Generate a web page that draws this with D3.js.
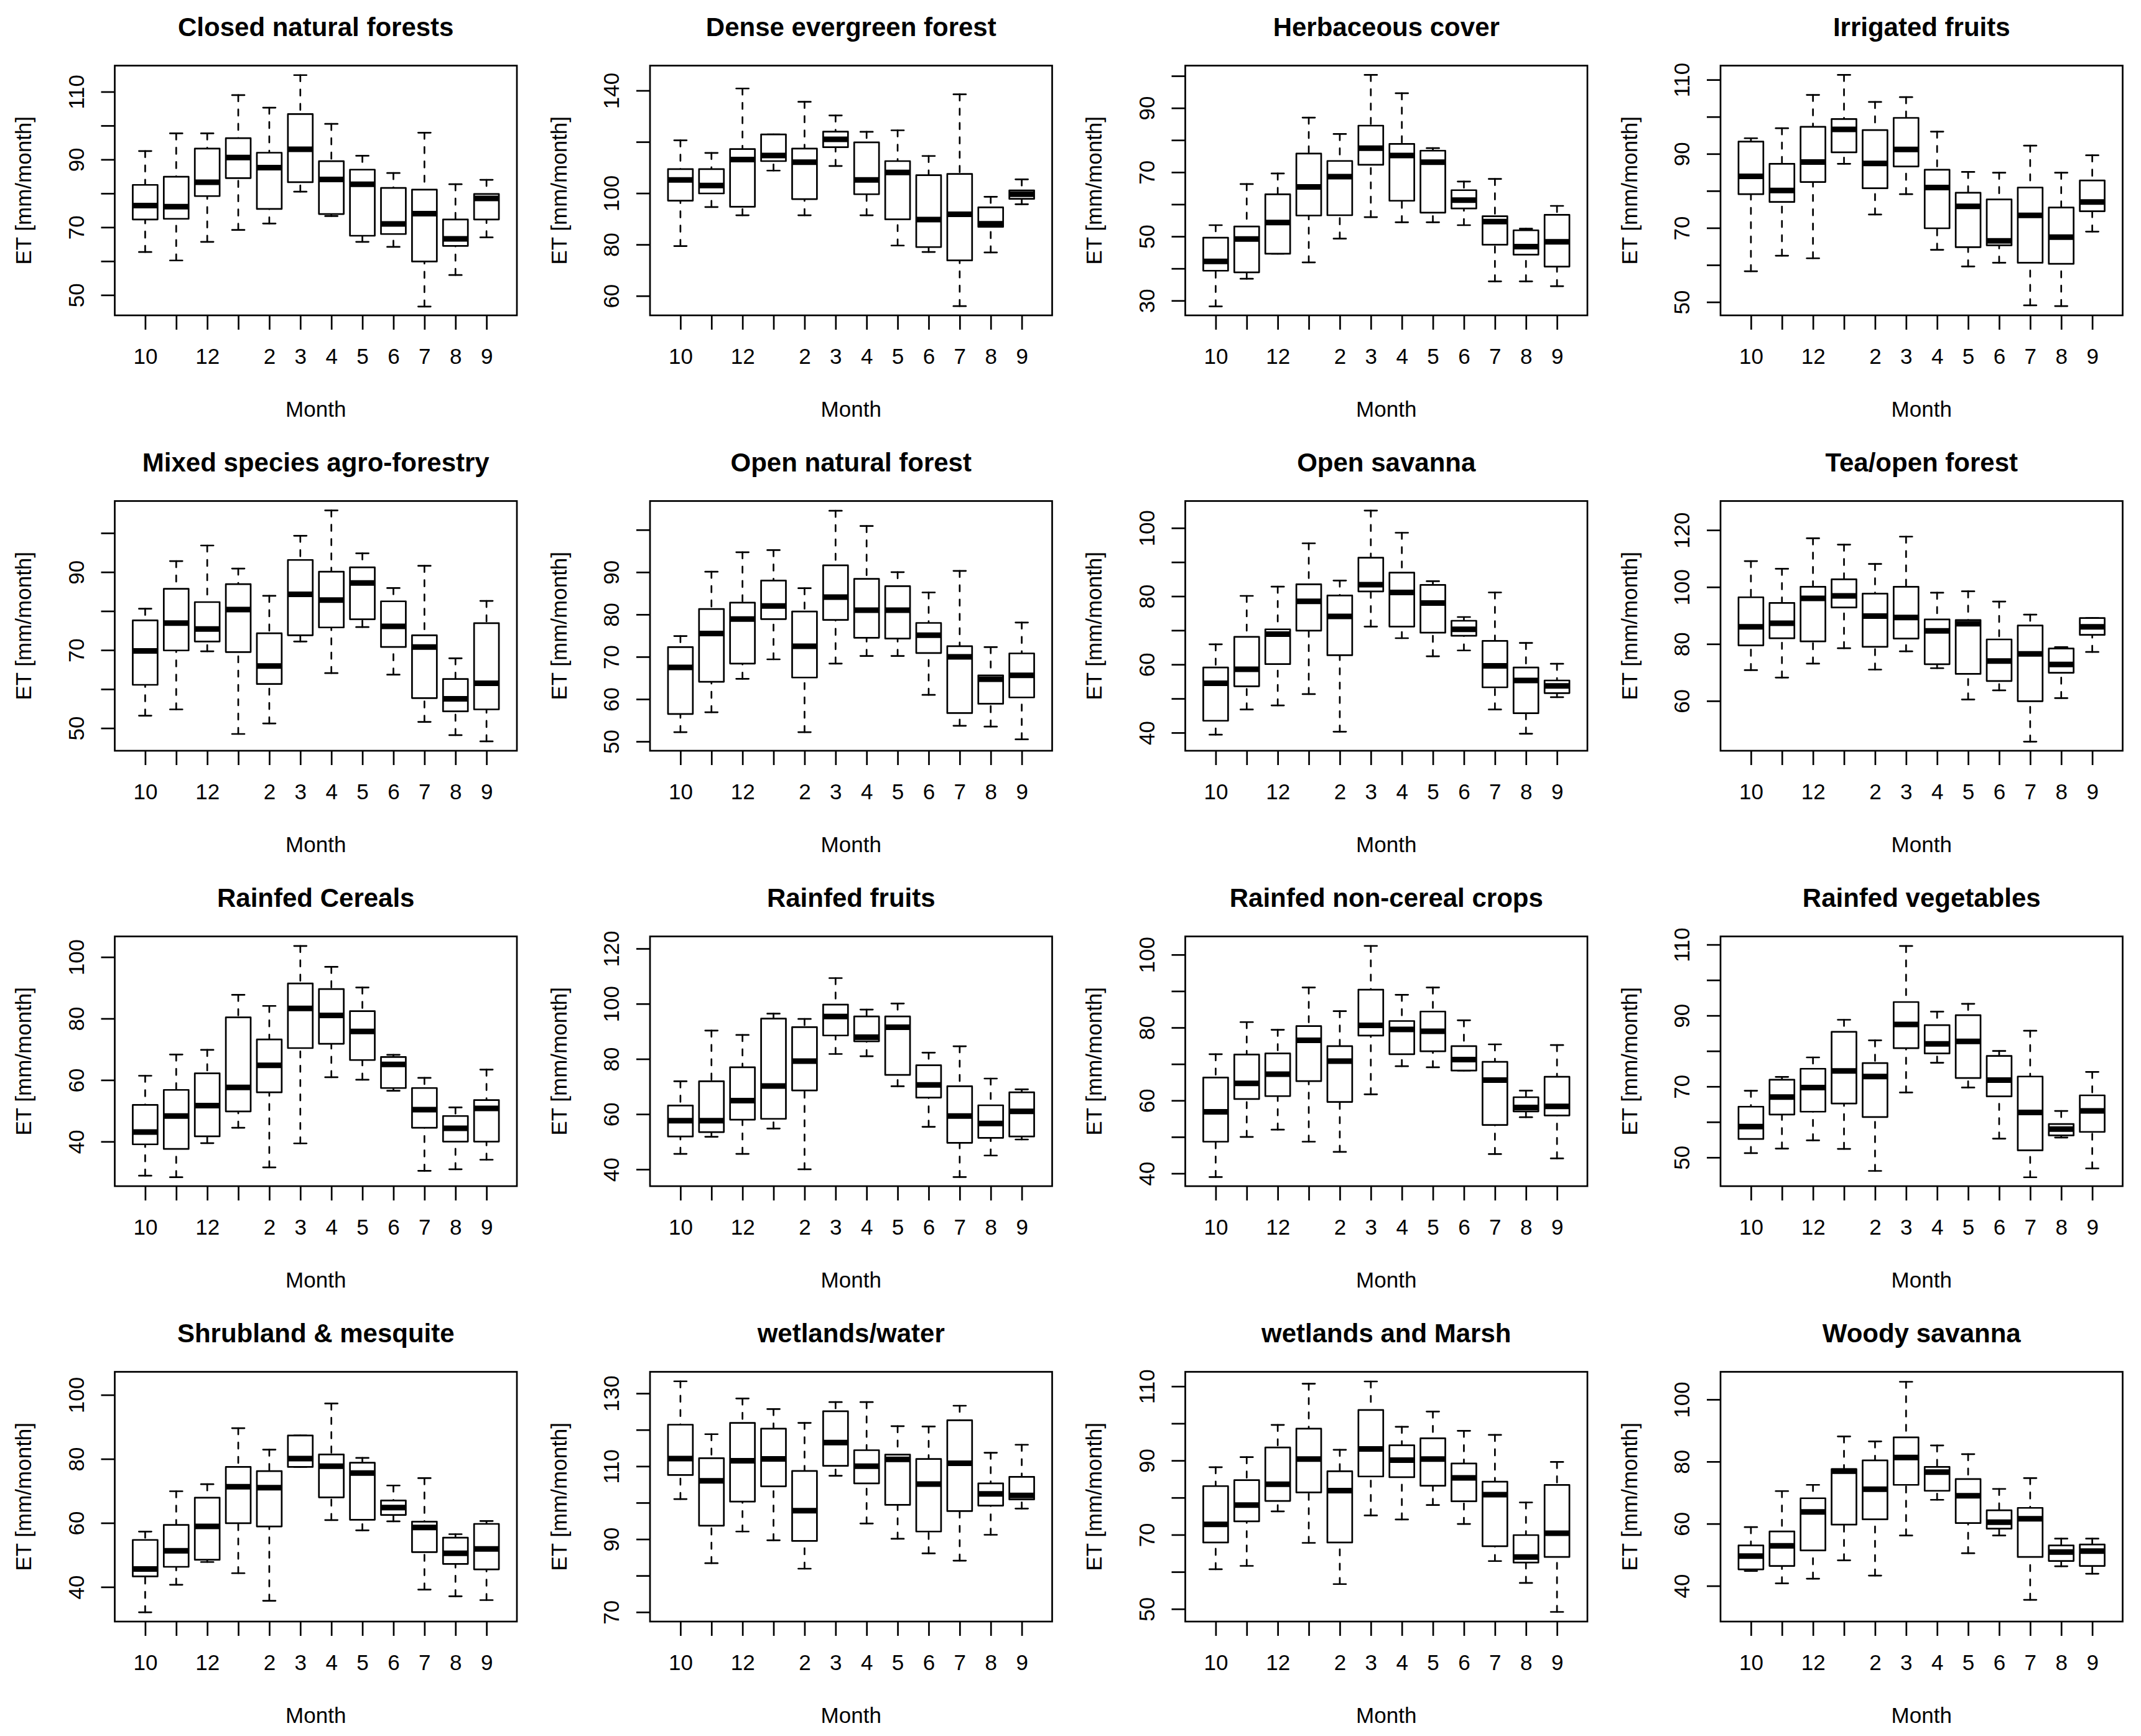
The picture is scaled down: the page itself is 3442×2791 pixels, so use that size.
<!DOCTYPE html>
<html>
<head>
<meta charset="utf-8">
<script src="https://cdn.jsdelivr.net/npm/d3@7"></script>
<style>
body { margin: 0; background: #fff; }
svg { display: block; }
</style>
</head>
<body>
<div id="chart"></div>
<script>
// Months in hydrological-year order, and the labels R managed to print
const months = [10, 11, 12, 1, 2, 3, 4, 5, 6, 7, 8, 9];
const monthLabels = ["10", "", "12", "", "2", "3", "4", "5", "6", "7", "8", "9"];

const titles = [
    "Closed natural forests", "Dense evergreen forest", "Herbaceous cover", "Irrigated fruits",
    "Mixed species agro-forestry", "Open natural forest", "Open savanna", "Tea/open forest",
    "Rainfed Cereals", "Rainfed fruits", "Rainfed non-cereal crops", "Rainfed vegetables",
    "Shrubland & mesquite", "wetlands/water", "wetlands and Marsh", "Woody savanna"
];

// Per month: [lower whisker, Q1, median, Q3, upper whisker] in mm/month
const closedNaturalForests = [
    [62.7, 72.3, 76.4, 82.5, 92.5], [60.2, 72.5, 76.1, 84.9, 97.7], [65.7, 79.2, 83.3, 93.2, 97.7],
    [69.2, 84.5, 90.6, 96.3, 109.0], [71.1, 75.4, 87.6, 92.0, 105.3], [80.5, 83.3, 93.0, 103.4, 114.9],
    [73.3, 73.9, 84.1, 89.5, 100.5], [65.7, 67.5, 82.7, 87.0, 91.1], [64.2, 68.0, 71.0, 81.6, 86.0],
    [46.6, 59.9, 74.0, 81.1, 97.9], [55.9, 64.5, 66.6, 72.3, 82.7], [67.0, 72.3, 78.5, 79.8, 84.0]
];
const denseEvergreenForest = [
    [79.4, 97.1, 105.2, 109.4, 120.6], [94.6, 99.9, 103.0, 109.4, 115.7], [91.4, 94.7, 113.1, 117.2, 140.8],
    [108.8, 112.5, 114.7, 122.9, 122.9], [91.4, 97.7, 112.1, 117.4, 135.6], [110.6, 117.9, 121.0, 124.0, 130.3],
    [91.4, 99.6, 105.2, 119.8, 123.9], [79.6, 89.8, 108.1, 112.5, 124.5], [77.1, 79.0, 89.7, 107.0, 114.5],
    [56.0, 73.8, 91.8, 107.5, 138.5], [76.9, 86.9, 88.1, 94.5, 98.6], [95.7, 97.8, 99.6, 101.1, 105.4]
];
const herbaceousCover = [
    [28.2, 39.3, 42.2, 49.6, 53.5], [36.8, 38.8, 49.2, 53.1, 66.3], [44.6, 44.6, 54.3, 63.1, 69.6],
    [41.9, 56.5, 65.4, 75.8, 87.0], [49.3, 56.6, 68.6, 73.5, 81.9], [56.0, 72.3, 77.5, 84.5, 100.3],
    [54.4, 61.1, 75.2, 78.8, 94.6], [54.4, 57.4, 73.1, 76.7, 77.5], [53.5, 58.7, 61.3, 64.4, 67.1],
    [36.0, 47.4, 54.6, 56.3, 67.9], [36.0, 44.3, 46.8, 51.9, 52.4], [34.5, 40.6, 48.3, 56.7, 59.5]
];
const irrigatedFruits = [
    [58.3, 79.1, 83.9, 93.3, 94.2], [62.5, 77.0, 80.1, 87.3, 96.9], [61.8, 82.4, 87.8, 97.3, 105.9],
    [87.3, 90.4, 96.6, 99.4, 111.3], [73.6, 80.7, 87.4, 96.4, 104.0], [79.1, 86.6, 91.2, 99.7, 105.3],
    [64.1, 69.9, 80.9, 85.7, 96.0], [59.6, 64.8, 75.8, 79.5, 85.1], [60.6, 65.3, 66.5, 77.7, 84.9],
    [49.1, 60.6, 73.4, 80.9, 92.2], [48.9, 60.3, 67.5, 75.5, 84.9], [69.0, 74.5, 77.0, 82.8, 89.6]
];
const mixedAgroForestry = [
    [53.2, 61.1, 69.8, 77.6, 80.6], [54.8, 69.9, 76.9, 85.7, 92.8], [69.7, 72.2, 75.4, 82.3, 96.8],
    [48.5, 69.5, 80.4, 86.9, 90.9], [51.2, 61.3, 65.9, 74.3, 83.9], [72.2, 73.8, 84.3, 93.1, 99.3],
    [64.1, 75.8, 82.8, 90.1, 105.8], [75.9, 77.9, 87.2, 91.2, 94.8], [63.7, 70.8, 76.1, 82.5, 85.9],
    [51.6, 57.7, 70.8, 73.8, 91.6], [48.2, 54.3, 57.5, 62.6, 67.9], [46.6, 54.8, 61.5, 76.9, 82.6]
];
const openNaturalForest = [
    [52.2, 56.5, 67.5, 72.3, 74.9], [56.9, 64.1, 75.5, 81.3, 90.1], [64.8, 68.4, 78.9, 82.8, 94.7],
    [69.4, 78.9, 82.0, 88.0, 95.2], [52.2, 65.1, 72.5, 80.7, 86.2], [68.4, 78.7, 84.1, 91.6, 104.5],
    [70.2, 74.5, 81.0, 88.4, 100.9], [70.2, 74.3, 81.0, 86.7, 90.0], [61.0, 70.9, 75.1, 78.0, 85.2],
    [53.7, 56.7, 70.0, 72.5, 90.3], [53.5, 58.9, 64.7, 65.6, 72.3], [50.5, 60.4, 65.6, 70.8, 78.1]
];
const openSavanna = [
    [39.4, 43.5, 54.5, 59.1, 65.9], [46.8, 53.6, 58.6, 68.1, 80.1], [48.0, 60.1, 68.9, 70.3, 82.8],
    [51.3, 69.9, 78.5, 83.5, 95.5], [40.3, 62.7, 74.1, 80.2, 84.6], [71.1, 81.4, 83.4, 91.3, 105.1],
    [67.7, 71.1, 81.1, 86.9, 98.6], [62.4, 69.3, 78.0, 83.3, 84.4], [64.1, 68.4, 70.3, 72.8, 73.9],
    [46.8, 53.3, 59.6, 66.9, 81.1], [39.7, 45.7, 55.3, 59.1, 66.3], [50.4, 51.6, 53.7, 55.3, 60.2]
];
const teaOpenForest = [
    [70.8, 79.5, 86.0, 96.4, 109.1], [68.2, 82.0, 87.3, 94.4, 106.4], [73.1, 80.9, 96.0, 100.1, 117.1],
    [78.5, 92.8, 96.9, 102.7, 114.9], [71.0, 79.0, 89.8, 97.7, 108.1], [77.4, 81.9, 89.3, 100.1, 117.7],
    [71.5, 72.9, 84.6, 88.6, 98.0], [60.5, 69.5, 87.1, 88.4, 98.5], [63.7, 67.0, 74.0, 81.6, 94.9],
    [45.7, 59.9, 76.5, 86.5, 90.3], [61.0, 69.9, 72.8, 78.4, 78.9], [77.2, 83.2, 86.0, 89.1, 89.1]
];
const rainfedCereals = [
    [28.9, 39.1, 43.1, 51.9, 61.4], [28.4, 37.6, 48.3, 56.8, 68.3], [39.5, 41.7, 51.7, 62.2, 69.8],
    [44.5, 49.8, 57.6, 80.4, 87.7], [31.6, 56.0, 64.8, 73.2, 84.1], [39.4, 70.4, 83.3, 91.4, 103.6],
    [60.9, 71.8, 81.0, 89.6, 96.8], [60.1, 66.5, 75.8, 82.4, 90.1], [56.5, 57.4, 65.1, 67.5, 68.2],
    [30.5, 44.5, 50.4, 57.4, 60.7], [31.0, 40.0, 44.3, 48.3, 51.1], [34.1, 40.0, 50.8, 53.5, 63.4]
];
const rainfedFruits = [
    [45.6, 51.9, 57.6, 63.1, 71.9], [51.8, 53.5, 57.6, 71.9, 90.3], [45.6, 58.0, 64.9, 77.0, 88.7],
    [54.8, 58.3, 70.2, 94.6, 96.4], [40.0, 68.6, 79.2, 91.5, 94.5], [81.8, 88.5, 95.4, 99.7, 109.3],
    [81.0, 86.4, 87.9, 95.4, 97.9], [70.1, 74.2, 91.5, 95.4, 100.1], [55.4, 66.0, 70.6, 77.7, 82.3],
    [37.2, 49.6, 59.3, 70.1, 84.6], [45.0, 51.4, 56.6, 63.2, 72.9], [50.8, 51.9, 61.0, 67.9, 69.0]
];
const rainfedNonCereal = [
    [39.0, 48.7, 56.9, 66.3, 72.7], [50.0, 60.4, 64.7, 72.6, 81.5], [52.0, 61.2, 67.2, 72.9, 79.4],
    [48.7, 65.3, 76.5, 80.4, 91.0], [45.9, 59.6, 70.8, 74.9, 84.5], [61.7, 77.8, 80.6, 90.4, 102.4],
    [69.4, 72.7, 79.5, 81.8, 89.0], [69.1, 73.5, 79.0, 84.4, 91.0], [68.2, 68.2, 71.2, 74.9, 82.0],
    [45.3, 53.3, 65.6, 70.6, 75.4], [55.4, 57.0, 58.1, 60.9, 62.7], [44.1, 55.9, 58.4, 66.5, 75.2]
];
const rainfedVegetables = [
    [51.2, 55.2, 58.7, 64.3, 68.8], [52.5, 62.1, 67.0, 71.9, 72.7], [54.8, 62.9, 69.7, 75.0, 78.2],
    [52.4, 65.2, 74.4, 85.4, 88.8], [46.2, 61.4, 72.8, 76.6, 83.0], [68.3, 80.8, 87.5, 93.8, 109.6],
    [76.7, 79.3, 82.0, 87.3, 91.1], [69.7, 72.4, 82.7, 90.1, 93.3], [55.3, 67.2, 71.8, 78.6, 80.0],
    [44.4, 52.0, 62.7, 72.8, 85.7], [55.6, 56.2, 58.0, 59.4, 63.1], [46.9, 57.2, 63.1, 67.5, 74.1]
];
const shrublandMesquite = [
    [32.1, 43.3, 45.6, 54.7, 57.3], [40.7, 46.3, 51.3, 59.4, 69.9], [47.8, 48.5, 58.9, 67.9, 72.1],
    [44.3, 59.9, 71.3, 77.5, 89.6], [35.7, 58.9, 71.0, 76.2, 82.9], [77.5, 77.5, 80.1, 87.3, 87.3],
    [60.9, 68.0, 77.7, 81.4, 97.3], [57.7, 61.0, 75.6, 78.8, 80.3], [60.5, 62.5, 64.8, 67.0, 71.7],
    [39.2, 50.9, 58.6, 60.4, 74.0], [37.1, 47.2, 50.5, 55.4, 56.5], [35.9, 45.5, 51.9, 59.7, 60.6]
];
const wetlandsWater = [
    [101.0, 107.6, 112.1, 121.4, 133.3], [83.4, 93.7, 106.0, 112.2, 118.8], [92.1, 100.3, 111.5, 121.9, 128.6],
    [89.7, 104.5, 112.0, 120.3, 125.7], [81.9, 89.5, 97.8, 108.7, 121.9], [107.4, 110.1, 116.5, 125.1, 127.6],
    [94.3, 105.3, 110.0, 114.4, 127.6], [90.1, 99.4, 111.9, 113.2, 121.0], [86.1, 92.1, 105.1, 112.0, 120.9],
    [84.1, 97.7, 110.8, 122.6, 126.6], [91.2, 99.2, 102.4, 105.3, 113.7], [98.4, 100.9, 102.0, 107.1, 115.9]
];
const wetlandsMarsh = [
    [60.7, 67.9, 72.8, 83.1, 88.2], [61.6, 73.6, 78.0, 84.7, 90.9], [76.3, 79.1, 83.6, 93.5, 99.6],
    [67.8, 81.4, 90.4, 98.6, 110.7], [56.7, 67.9, 81.9, 87.1, 92.9], [75.2, 85.7, 93.1, 103.6, 111.3],
    [74.1, 85.5, 90.1, 94.1, 99.1], [78.0, 83.2, 90.4, 96.0, 103.2], [72.9, 79.0, 85.3, 89.2, 98.0],
    [62.9, 66.9, 80.8, 84.3, 96.9], [57.0, 62.5, 64.0, 69.9, 78.7], [49.2, 64.0, 70.4, 83.4, 89.6]
];
const woodySavanna = [
    [44.8, 45.3, 49.6, 53.0, 58.9], [40.8, 46.4, 52.9, 57.5, 70.5], [42.3, 51.4, 63.8, 68.2, 72.5],
    [48.2, 59.7, 76.9, 77.6, 88.1], [43.3, 61.4, 71.1, 80.4, 86.5], [56.2, 72.5, 81.3, 87.8, 105.7],
    [67.7, 70.6, 76.6, 78.3, 85.2], [50.5, 60.2, 69.0, 74.4, 82.4], [56.2, 58.4, 60.5, 64.3, 71.2],
    [35.5, 49.3, 61.6, 65.1, 74.7], [46.3, 48.0, 50.9, 53.0, 55.2], [43.9, 46.4, 51.2, 53.3, 55.2]
];

// y axis of each panel: visible range, tick marks and the ticks that carry a label
const yRanges = [
    [44.0, 117.7], [52.4, 149.7], [25.4, 103.2], [46.4, 113.8],
    [44.2, 108.2], [47.8, 106.8], [34.7, 107.9], [42.5, 130.2],
    [25.5, 106.7], [33.9, 124.4], [36.5, 105.0], [41.9, 112.3],
    [29.2, 107.2], [67.4, 135.9], [46.6, 113.9], [28.5, 108.9]
];
const yTicks = [
    [50, 60, 70, 80, 90, 100, 110], [60, 80, 100, 120, 140], [30, 40, 50, 60, 70, 80, 90, 100], [50, 60, 70, 80, 90, 100, 110],
    [50, 60, 70, 80, 90, 100], [50, 60, 70, 80, 90, 100], [40, 50, 60, 70, 80, 90, 100], [60, 80, 100, 120],
    [40, 60, 80, 100], [40, 60, 80, 100, 120], [40, 50, 60, 70, 80, 90, 100], [50, 60, 70, 80, 90, 100, 110],
    [40, 60, 80, 100], [70, 80, 90, 100, 110, 120, 130], [50, 60, 70, 80, 90, 100, 110], [40, 60, 80, 100]
];
const yLabels = [
    [50, 70, 90, 110], [60, 80, 100, 140], [30, 50, 70, 90], [50, 70, 90, 110],
    [50, 70, 90], [50, 60, 70, 80, 90], [40, 60, 80, 100], [60, 80, 100, 120],
    [40, 60, 80, 100], [40, 60, 80, 100, 120], [40, 60, 80, 100], [50, 70, 90, 110],
    [40, 60, 80, 100], [70, 90, 110, 130], [50, 70, 90, 110], [40, 60, 80, 100]
];

const series = [
    closedNaturalForests, denseEvergreenForest, herbaceousCover, irrigatedFruits,
    mixedAgroForestry, openNaturalForest, openSavanna, teaOpenForest,
    rainfedCereals, rainfedFruits, rainfedNonCereal, rainfedVegetables,
    shrublandMesquite, wetlandsWater, wetlandsMarsh, woodySavanna
];

// Page setup
const width = 3442, height = 2791;
const cellW = width / 4, cellH = 700;
const margin = { top: 105.5, right: 29.5, bottom: 193, left: 184.5 };
const plotW = cellW - margin.left - margin.right;
const plotH = cellH - margin.top - margin.bottom;
const font = "'Liberation Sans', Arial, Helvetica, sans-serif";
const lw = 2.7;       // base line width
const dash = "10,13"; // whisker dashes (round caps add the rest)

const svg = d3.select("#chart").append("svg")
    .attr("width", width)
    .attr("height", height)
    .style("background", "#fff");

// x scale shared by all panels (R style: 0.5..12.5 padded by 4%)
const x = d3.scaleLinear().domain([0.02, 12.98]).range([0, plotW]);
const boxW = x(0.8) - x(0);
const stapleW = boxW / 2;

series.forEach((stats, k) => {
    const col = k % 4, row = Math.floor(k / 4);
    const g = svg.append("g")
        .attr("transform", `translate(${col * cellW + margin.left},${row * cellH + margin.top})`);

    const y = d3.scaleLinear().domain(yRanges[k]).range([plotH, 0]);

    // title
    g.append("text")
        .attr("x", plotW / 2)
        .attr("y", 58 - margin.top)
        .attr("text-anchor", "middle")
        .style("font-family", font)
        .style("font-weight", "bold")
        .style("font-size", "42px")
        .text(titles[k]);

    // x axis
    const xAxis = g.append("g")
        .attr("transform", `translate(0,${plotH})`)
        .call(d3.axisBottom(x)
            .tickValues(d3.range(1, 13))
            .tickSize(23)
            .tickFormat((d, i) => monthLabels[i]));
    xAxis.select(".domain").remove();
    xAxis.selectAll("line").attr("stroke", "#000").attr("stroke-width", lw);
    xAxis.selectAll("text")
        .attr("y", 585 - margin.top - plotH)
        .attr("dy", 0)
        .attr("fill", "#000")
        .style("font-family", font)
        .style("font-size", "35px");

    // y axis, labels parallel to the axis
    const yAxis = g.append("g")
        .call(d3.axisLeft(y)
            .tickValues(yTicks[k])
            .tickSize(22)
            .tickFormat(d => yLabels[k].includes(d) ? d : ""));
    yAxis.select(".domain").remove();
    yAxis.selectAll("line").attr("stroke", "#000").attr("stroke-width", lw);
    yAxis.selectAll("text")
        .attr("x", 0)
        .attr("dy", 0)
        .attr("transform", "translate(-50,0) rotate(-90)")
        .attr("text-anchor", "middle")
        .attr("fill", "#000")
        .style("font-family", font)
        .style("font-size", "35px");

    // axis titles
    g.append("text")
        .attr("x", plotW / 2)
        .attr("y", 670 - margin.top)
        .attr("text-anchor", "middle")
        .style("font-family", font)
        .style("font-size", "35px")
        .text("Month");

    g.append("text")
        .attr("transform", `translate(${50 - margin.left},${plotH / 2}) rotate(-90)`)
        .attr("text-anchor", "middle")
        .style("font-family", font)
        .style("font-size", "35px")
        .text("ET [mm/month]");

    // boxes
    const box = g.selectAll("g.box")
        .data(stats)
        .join("g")
        .attr("class", "box")
        .attr("transform", (d, i) => `translate(${x(i + 1)},0)`);

    // whiskers: from the ends towards the box
    box.append("line")
        .attr("y1", d => y(d[4])).attr("y2", d => y(d[3]))
        .attr("stroke", "#000").attr("stroke-width", lw)
        .attr("stroke-dasharray", dash).attr("stroke-linecap", "round");
    box.append("line")
        .attr("y1", d => y(d[0])).attr("y2", d => y(d[1]))
        .attr("stroke", "#000").attr("stroke-width", lw)
        .attr("stroke-dasharray", dash).attr("stroke-linecap", "round");

    // staples
    [0, 4].forEach(j => {
        box.append("line")
            .attr("x1", -stapleW / 2).attr("x2", stapleW / 2)
            .attr("y1", d => y(d[j])).attr("y2", d => y(d[j]))
            .attr("stroke", "#000").attr("stroke-width", lw)
            .attr("stroke-linecap", "round");
    });

    box.append("rect")
        .attr("x", -boxW / 2)
        .attr("width", boxW)
        .attr("y", d => y(d[3]))
        .attr("height", d => y(d[1]) - y(d[3]))
        .attr("fill", "#fff")
        .attr("stroke", "#000")
        .attr("stroke-width", lw)
        .attr("stroke-linejoin", "round");

    // median
    box.append("line")
        .attr("x1", -boxW / 2).attr("x2", boxW / 2)
        .attr("y1", d => y(d[2])).attr("y2", d => y(d[2]))
        .attr("stroke", "#000").attr("stroke-width", 9);

    // plot frame
    g.append("rect")
        .attr("width", plotW)
        .attr("height", plotH)
        .attr("fill", "none")
        .attr("stroke", "#000")
        .attr("stroke-width", lw);
});
</script>
</body>
</html>
